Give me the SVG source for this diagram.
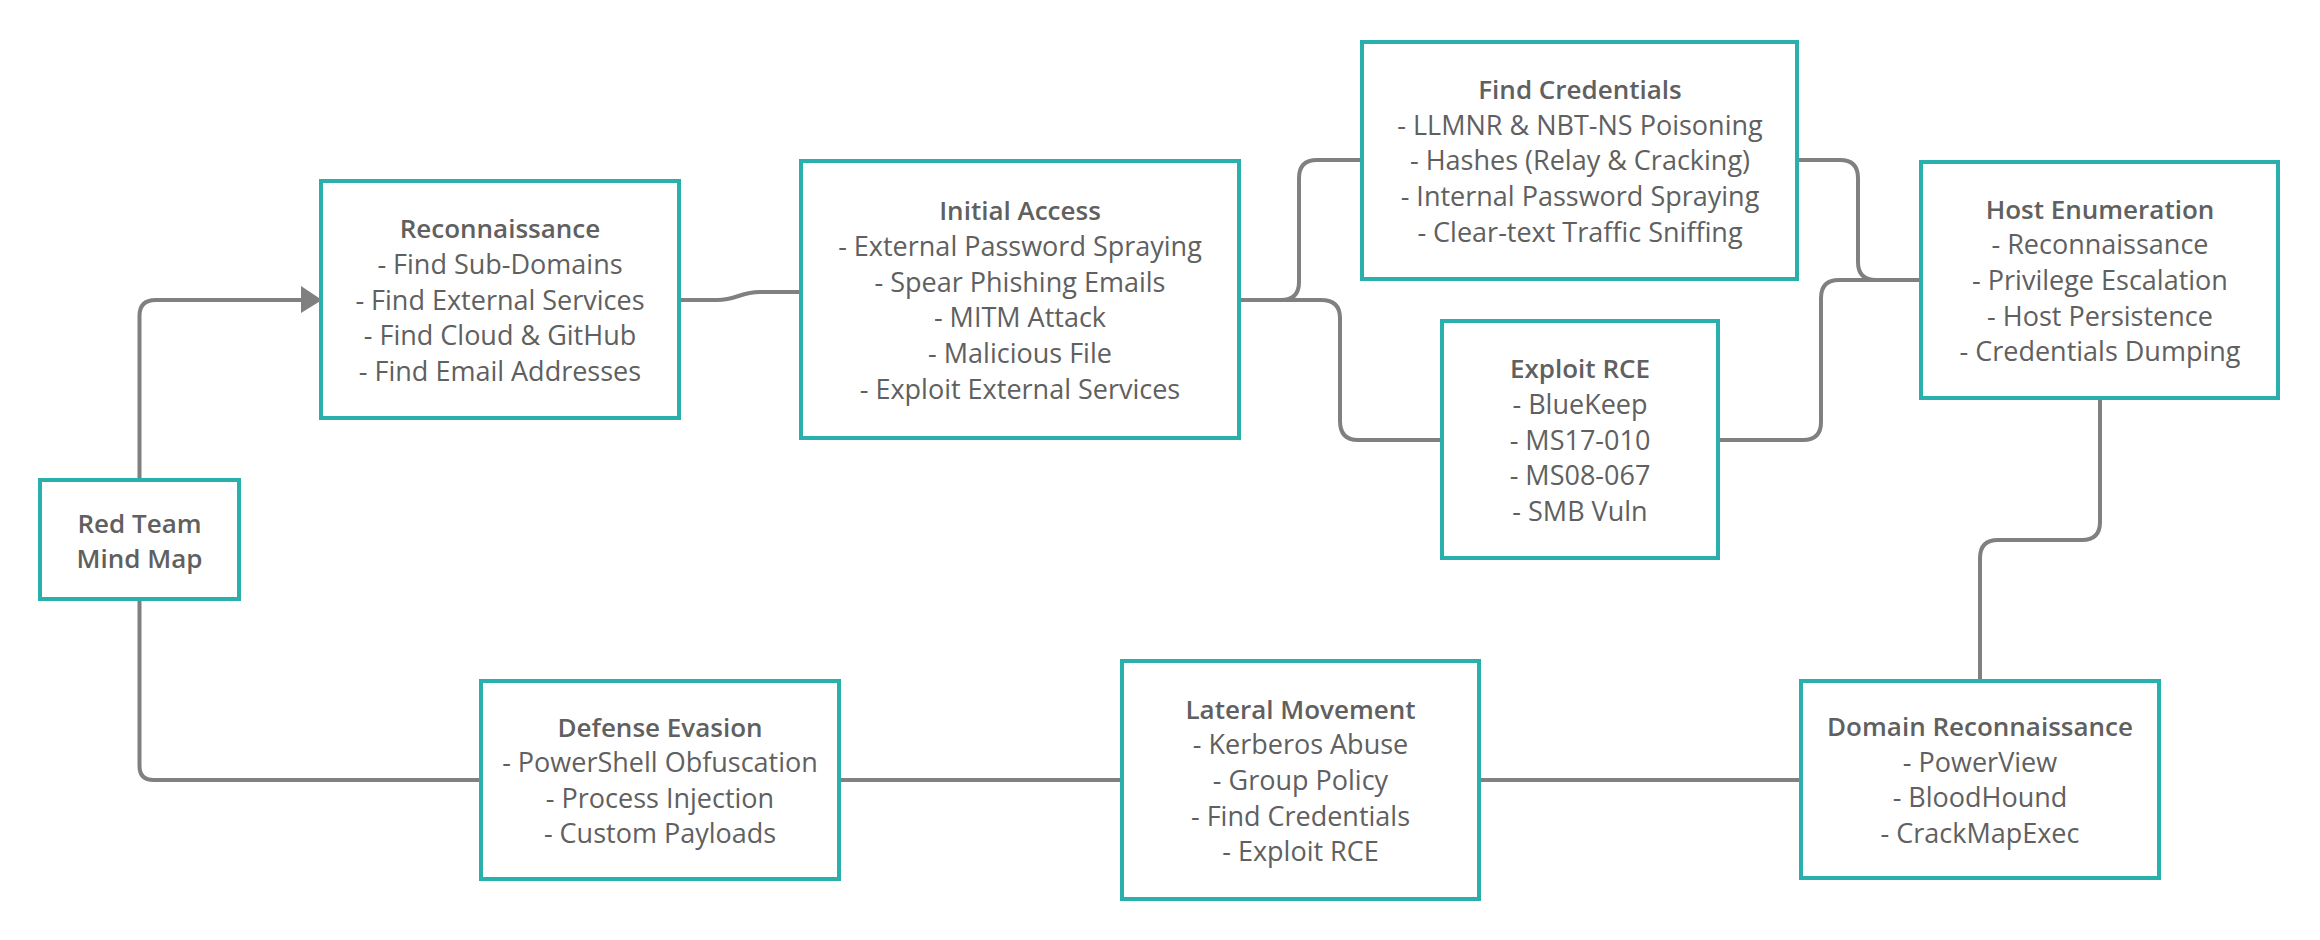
<svg xmlns="http://www.w3.org/2000/svg" width="2320" height="940" viewBox="0 0 2320 940">
<style>
.box{fill:#ffffff;stroke:#2ab0ac;stroke-width:4}
.t{font-family:"Open Sans","Noto Sans","Liberation Sans",sans-serif;font-size:27px;fill:#606060;text-anchor:middle}
.h{font-weight:600;font-size:26px}
.c{fill:none;stroke:#808080;stroke-width:4;stroke-linejoin:round}
</style>
<rect width="2320" height="940" fill="#ffffff"/>
<g id="connectors">
<path class="c" d="M139.5,478 V316 Q139.5,300 155.5,300 H302"/>
<polygon points="301,286 301,313 322,300" fill="#808080"/>
<path class="c" d="M139.5,601 V766 Q139.5,780 153.5,780 H479"/>
<path class="c" d="M681,300 H717 C737,300 740,292 760,292 H799"/>
<path class="c" d="M1241,300 H1281 Q1299,300 1299,282 V178 Q1299,160 1317,160 H1360"/>
<path class="c" d="M1241,300 H1321 Q1340,300 1340,318 V421 Q1340,440 1358,440 H1440"/>
<path class="c" d="M1799,160 H1840 Q1858,160 1858,178 V262 Q1858,280 1876,280 H1919"/>
<path class="c" d="M1720,440 H1803 Q1821,440 1821,422 V298 Q1821,280 1839,280 H1919"/>
<path class="c" d="M2100,400 V522 Q2100,540 2082,540 H1998 Q1980,540 1980,558 V679"/>
<path class="c" d="M841,780 H1120"/>
<path class="c" d="M1481,780 H1799"/>
</g>
<g id="red-team">
<rect class="box" x="40" y="480" width="199" height="119"/>
<text class="t h" x="139.5" y="533">Red Team</text>
<text class="t h" x="139.5" y="568">Mind Map</text>
</g>
<g id="reconnaissance">
<rect class="box" x="321" y="181" width="358" height="237"/>
<text class="t h" x="500" y="238">Reconnaissance</text>
<text class="t" x="500" y="274">- Find Sub-Domains</text>
<text class="t" x="500" y="309.5">- Find External Services</text>
<text class="t" x="500" y="345">- Find Cloud &amp; GitHub</text>
<text class="t" x="500" y="381">- Find Email Addresses</text>
</g>
<g id="initial-access">
<rect class="box" x="801" y="161" width="438" height="277"/>
<text class="t h" x="1020" y="220">Initial Access</text>
<text class="t" x="1020" y="256">- External Password Spraying</text>
<text class="t" x="1020" y="291.5">- Spear Phishing Emails</text>
<text class="t" x="1020" y="327">- MITM Attack</text>
<text class="t" x="1020" y="363">- Malicious File</text>
<text class="t" x="1020" y="398.5">- Exploit External Services</text>
</g>
<g id="find-credentials">
<rect class="box" x="1362" y="42" width="435" height="237"/>
<text class="t h" x="1580" y="98.5">Find Credentials</text>
<text class="t" x="1580" y="134.5">- LLMNR &amp; NBT-NS Poisoning</text>
<text class="t" x="1580" y="170">- Hashes (Relay &amp; Cracking)</text>
<text class="t" x="1580" y="206">- Internal Password Spraying</text>
<text class="t" x="1580" y="241.5">- Clear-text Traffic Sniffing</text>
</g>
<g id="exploit-rce">
<rect class="box" x="1442" y="321" width="276" height="237"/>
<text class="t h" x="1580" y="378">Exploit RCE</text>
<text class="t" x="1580" y="414">- BlueKeep</text>
<text class="t" x="1580" y="449.5">- MS17-010</text>
<text class="t" x="1580" y="485">- MS08-067</text>
<text class="t" x="1580" y="521">- SMB Vuln</text>
</g>
<g id="host-enumeration">
<rect class="box" x="1921" y="162" width="357" height="236"/>
<text class="t h" x="2100" y="218.5">Host Enumeration</text>
<text class="t" x="2100" y="254">- Reconnaissance</text>
<text class="t" x="2100" y="290">- Privilege Escalation</text>
<text class="t" x="2100" y="325.5">- Host Persistence</text>
<text class="t" x="2100" y="361">- Credentials Dumping</text>
</g>
<g id="domain-reconnaissance">
<rect class="box" x="1801" y="681" width="358" height="197"/>
<text class="t h" x="1980" y="736">Domain Reconnaissance</text>
<text class="t" x="1980" y="771.5">- PowerView</text>
<text class="t" x="1980" y="807">- BloodHound</text>
<text class="t" x="1980" y="843">- CrackMapExec</text>
</g>
<g id="lateral-movement">
<rect class="box" x="1122" y="661" width="357" height="238"/>
<text class="t h" x="1300.5" y="718.5">Lateral Movement</text>
<text class="t" x="1300.5" y="754">- Kerberos Abuse</text>
<text class="t" x="1300.5" y="790">- Group Policy</text>
<text class="t" x="1300.5" y="825.5">- Find Credentials</text>
<text class="t" x="1300.5" y="861">- Exploit RCE</text>
</g>
<g id="defense-evasion">
<rect class="box" x="481" y="681" width="358" height="198"/>
<text class="t h" x="660" y="736.5">Defense Evasion</text>
<text class="t" x="660" y="772">- PowerShell Obfuscation</text>
<text class="t" x="660" y="807.5">- Process Injection</text>
<text class="t" x="660" y="843">- Custom Payloads</text>
</g>
</svg>
